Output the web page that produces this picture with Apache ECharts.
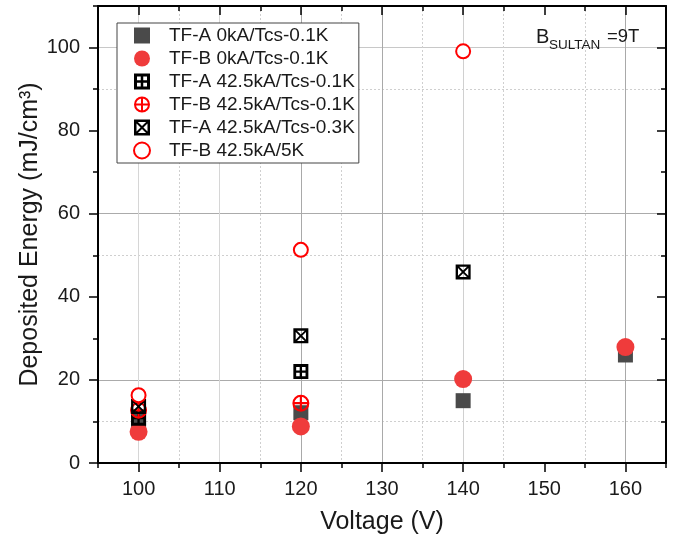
<!DOCTYPE html>
<html>
<head>
<meta charset="utf-8">
<script src="https://cdn.jsdelivr.net/npm/echarts@6/dist/echarts.min.js"></script>
<style>html,body{margin:0;padding:0;background:#fff;}#c{width:676px;height:540px;}</style>
</head>
<body>
<div id="c"></div>
<script>
// ---- data ----
const seriesNames = ['TF-A 0kA/Tcs-0.1K', 'TF-B 0kA/Tcs-0.1K', 'TF-A 42.5kA/Tcs-0.1K', 'TF-B 42.5kA/Tcs-0.1K', 'TF-A 42.5kA/Tcs-0.3K', 'TF-B 42.5kA/5K'];
const voltA0 = [100, 120, 140, 160];
const energyA0 = [10.0, 12.1, 15.0, 26.0];
const voltB0 = [100, 120, 140, 160];
const energyB0 = [7.5, 8.8, 20.2, 27.9];
const voltA425 = [100, 120];
const energyA425 = [10.8, 22.0];
const voltB425 = [100, 120];
const energyB425 = [12.7, 14.4];
const voltA425_03 = [100, 120, 140];
const energyA425_03 = [13.6, 30.6, 46.0];
const voltB425_5K = [100, 120, 140];
const energyB425_5K = [16.3, 51.3, 99.1];
const xTickLabels = [100, 110, 120, 130, 140, 150, 160];
const yTickLabels = [0, 20, 40, 60, 80, 100];

const FONT = 'Arial, "Liberation Sans", sans-serif';
const pair = (xs, ys) => xs.map((x, i) => [x, ys[i]]);

const SYM_SQ = 'path://M0 0L16 0L16 16L0 16Z';
const SYM_GRID = 'path://M0 0L16 0L16 16L0 16Z M3 3L3 6.75L6.75 6.75L6.75 3Z M9.25 3L9.25 6.75L13 6.75L13 3Z M3 9.25L3 13L6.75 13L6.75 9.25Z M9.25 9.25L9.25 13L13 13L13 9.25Z';
const SYM_X = 'path://M0 0L16 0L16 16L0 16Z M3.91 2.5L8 6.59L12.09 2.5Z M13.5 3.91L9.41 8L13.5 12.09Z M12.09 13.5L8 9.41L3.91 13.5Z M2.5 12.09L6.59 8L2.5 3.91Z';
const SYM_CPLUS = 'path://M16 8A8 8 0 1 1 0 8A8 8 0 1 1 16 8Z M14 8A6 6 0 1 0 2 8A6 6 0 1 0 14 8Z M7 1.5L9 1.5L9 14.5L7 14.5Z M1.5 7L14.5 7L14.5 9L1.5 9Z';

const gridRect = {left: 98, top: 6, width: 568, height: 457};
const X = {min: 95, max: 165, interval: 5};
const Y = {min: 0, max: 110, interval: 10};
const T = 'rgba(0,0,0,0)';
// dotted: x ticks 95..165 step 5
const xDotColors = [T, T, '#cfcfcf', T, '#cfcfcf', T, '#cfcfcf', T, '#cfcfcf', T, '#cfcfcf', T, '#cfcfcf', T, T];
// solid: on major ticks 100..160
const xSolidColors = ['#d6d6d6', '#d6d6d6', '#a9a9a9', '#a9a9a9', '#d0d0d0', T, '#a9a9a9'];
// dotted: y ticks 0..110 step 10
const yDotColors = [T, '#cfcfcf', T, T, T, '#cfcfcf', T, T, T, '#cfcfcf', T, T];
// solid: on major ticks 0..100
const ySolidColors = [T, '#ababab', T, '#ababab', T, '#c8c8c8'];

const blackLine = {lineStyle: {color: '#000', width: 2}};
const tickStyle = {color: '#000', width: 1.5};

const option = {
  animation: false,
  backgroundColor: '#fff',
  textStyle: {fontFamily: FONT},
  grid: [gridRect, gridRect, gridRect, gridRect].map(g => Object.assign({show: false}, g)),
  xAxis: [
    Object.assign({type: 'value', gridIndex: 0, position: 'bottom',
      axisLine: Object.assign({onZero: false}, blackLine),
      axisTick: {show: true, length: 5, lineStyle: tickStyle},
      axisLabel: {fontSize: 20, color: '#1a1a1a', margin: 16, fontFamily: FONT,
        formatter: v => (xTickLabels.indexOf(v) >= 0 ? String(v) : '')},
      splitLine: {show: true, showMinLine: true, showMaxLine: true, lineStyle: {type: [2, 2], width: 1, color: xDotColors}},
      name: 'Voltage (V)', nameLocation: 'middle', nameGap: 47, nameMoveOverlap: false,
      nameTextStyle: {fontSize: 25, color: '#1a1a1a', fontFamily: FONT}
    }, X),
    Object.assign({type: 'value', gridIndex: 1, position: 'bottom',
      axisLine: {show: false, onZero: false},
      axisTick: {show: true, length: 9, customValues: xTickLabels, lineStyle: tickStyle},
      axisLabel: {show: false},
      splitLine: {show: true, showMinLine: true, showMaxLine: true, lineStyle: {type: 'solid', width: 1, color: xSolidColors}}
    }, X),
    Object.assign({type: 'value', gridIndex: 2, position: 'top',
      axisLine: Object.assign({onZero: false}, blackLine),
      axisTick: {show: true, inside: true, length: 5, lineStyle: tickStyle},
      axisLabel: {show: false}, splitLine: {show: false}
    }, X),
    Object.assign({type: 'value', gridIndex: 3, position: 'top',
      axisLine: {show: false, onZero: false},
      axisTick: {show: true, inside: true, length: 9, customValues: xTickLabels, lineStyle: tickStyle},
      axisLabel: {show: false}, splitLine: {show: false}
    }, X)
  ],
  yAxis: [
    Object.assign({type: 'value', gridIndex: 0, position: 'left',
      axisLine: Object.assign({onZero: false}, blackLine),
      axisTick: {show: true, length: 5, lineStyle: tickStyle},
      axisLabel: {fontSize: 20, color: '#1a1a1a', margin: 18, fontFamily: FONT,
        formatter: v => (yTickLabels.indexOf(v) >= 0 ? String(v) : '')},
      splitLine: {show: true, showMinLine: true, showMaxLine: true, lineStyle: {type: [2, 2], width: 1, color: yDotColors}},
      name: 'Deposited Energy (mJ/cm³)', nameLocation: 'middle', nameGap: 55, nameMoveOverlap: false,
      nameTextStyle: {fontSize: 25, color: '#1a1a1a', fontFamily: FONT}
    }, Y),
    Object.assign({type: 'value', gridIndex: 1, position: 'left',
      axisLine: {show: false, onZero: false},
      axisTick: {show: true, length: 9, customValues: yTickLabels, lineStyle: tickStyle},
      axisLabel: {show: false},
      splitLine: {show: true, showMinLine: true, showMaxLine: true, lineStyle: {type: 'solid', width: 1, color: ySolidColors}}
    }, Y),
    Object.assign({type: 'value', gridIndex: 2, position: 'right',
      axisLine: Object.assign({onZero: false}, blackLine),
      axisTick: {show: true, inside: true, length: 5, lineStyle: tickStyle},
      axisLabel: {show: false}, splitLine: {show: false}
    }, Y),
    Object.assign({type: 'value', gridIndex: 3, position: 'right',
      axisLine: {show: false, onZero: false},
      axisTick: {show: true, inside: true, length: 9, customValues: yTickLabels, lineStyle: tickStyle},
      axisLabel: {show: false}, splitLine: {show: false}
    }, Y)
  ],
  legend: {
    orient: 'vertical', left: 117, top: 23,
    padding: [3, 4, 3, 16],
    itemWidth: 16, itemHeight: 16, itemGap: 4,
    borderColor: '#444', borderWidth: 1, backgroundColor: '#fff',
    textStyle: {fontSize: 19, color: '#1a1a1a', fontFamily: FONT, padding: [0, 0, 0, 14]},
    data: seriesNames
  },
  graphic: [
    {type: 'text', left: 536, top: 27, z: 10, style: {text: 'B', fontSize: 20, fill: '#1a1a1a', fontFamily: FONT}},
    {type: 'text', left: 549, top: 38, z: 10, style: {text: 'SULTAN', fontSize: 13.5, fill: '#1a1a1a', fontFamily: FONT}},
    {type: 'text', left: 607, top: 27, z: 10, style: {text: '=9T', fontSize: 18.5, fill: '#1a1a1a', fontFamily: FONT}}
  ],
  series: [
    {name: seriesNames[0], type: 'scatter', xAxisIndex: 0, yAxisIndex: 0, symbol: SYM_SQ, symbolSize: 15, symbolKeepAspect: true,
      itemStyle: {color: '#4a4a4a', opacity: 1}, data: pair(voltA0, energyA0)},
    {name: seriesNames[1], type: 'scatter', xAxisIndex: 0, yAxisIndex: 0, symbol: 'circle', symbolSize: 18, symbolKeepAspect: true,
      itemStyle: {color: '#ef3b3b', opacity: 1}, data: pair(voltB0, energyB0)},
    {name: seriesNames[2], type: 'scatter', xAxisIndex: 0, yAxisIndex: 0, symbol: SYM_GRID, symbolSize: 15, symbolKeepAspect: true,
      itemStyle: {color: '#000', opacity: 1}, data: pair(voltA425, energyA425)},
    {name: seriesNames[3], type: 'scatter', xAxisIndex: 0, yAxisIndex: 0, symbol: SYM_CPLUS, symbolSize: 17, symbolKeepAspect: true,
      itemStyle: {color: '#ff0000', opacity: 1}, data: pair(voltB425, energyB425)},
    {name: seriesNames[4], type: 'scatter', xAxisIndex: 0, yAxisIndex: 0, symbol: SYM_X, symbolSize: 15, symbolKeepAspect: true,
      itemStyle: {color: '#000', opacity: 1}, data: pair(voltA425_03, energyA425_03)},
    {name: seriesNames[5], type: 'scatter', xAxisIndex: 0, yAxisIndex: 0, symbol: 'emptyCircle', symbolSize: 14, symbolKeepAspect: true,
      itemStyle: {color: '#ff0000', borderColor: '#ff0000', borderWidth: 3, opacity: 1}, data: pair(voltB425_5K, energyB425_5K)}
  ]
};
const chart = echarts.init(document.getElementById('c'), null, {renderer: 'canvas'});
chart.setOption(option);
</script>
</body>
</html>
